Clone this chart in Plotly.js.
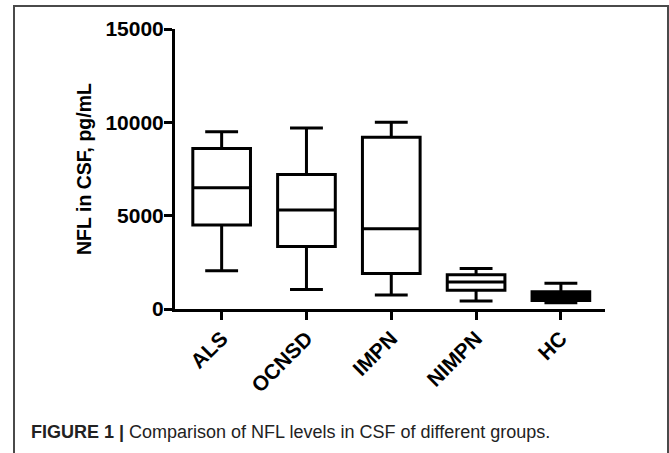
<!DOCTYPE html>
<html>
<head>
<meta charset="utf-8">
<script src="https://cdn.plot.ly/plotly-3.0.1.min.js"></script>
<style>
  html, body { margin: 0; padding: 0; background: #fff; }
  #wrap { position: relative; width: 669px; height: 453px; overflow: hidden; }
  #chart { width: 669px; height: 453px; }
  #frame { position: absolute; left: 13px; top: 5px; width: 652px; height: 460px;
           border: 2px solid #4a4a4a; pointer-events: none; }
</style>
</head>
<body>
<div id="wrap">
  <div id="chart"></div>
  <div id="frame"></div>
</div>
<script>
// Data (NFL in CSF, pg/mL)
const categories = ["ALS", "OCNSD", "IMPN", "NIMPN", "HC"];
const lowerWhisker = [2050, 1050, 750, 430, 340];
const q1Values     = [4500, 3350, 1900, 1000, 450];
const medianValues = [6500, 5300, 4300, 1450, 700];
const q3Values     = [8600, 7200, 9200, 1830, 930];
const upperWhisker = [9500, 9700, 10000, 2170, 1380];
const yTickValues  = [0, 5000, 10000, 15000];
const yTickLabels  = ["0", "5000", "10000", "15000"];

const tickFont = { family: "Liberation Sans, Arial, sans-serif", size: 21, color: "#000", weight: "bold" };
const titleFont = { family: "Liberation Sans, Arial, sans-serif", size: 19.5, color: "#000", weight: "bold" };

const traces = categories.map((c, i) => ({
  type: "box",
  x: [c],
  q1: [q1Values[i]],
  median: [medianValues[i]],
  q3: [q3Values[i]],
  lowerfence: [lowerWhisker[i]],
  upperfence: [upperWhisker[i]],
  width: 0.68,
  whiskerwidth: 0.57,
  line: { color: "#000", width: 3 },
  fillcolor: c === "HC" ? "#000" : "rgba(255,255,255,0)",
  boxpoints: false,
  hoverinfo: "skip",
  showlegend: false
}));

const layout = {
  width: 669,
  height: 453,
  margin: { l: 175, r: 64, t: 29, b: 144 },
  paper_bgcolor: "#fff",
  plot_bgcolor: "#fff",
  showlegend: false,
  xaxis: {
    type: "category",
    categoryorder: "array",
    categoryarray: categories,
    range: [-0.55, 4.52],
    showline: true,
    linecolor: "#000",
    linewidth: 3,
    ticks: "outside",
    ticklen: 8,
    tickwidth: 3,
    tickcolor: "#000",
    tickangle: -45,
    tickfont: tickFont,
    ticklabelstandoff: -2,
    showgrid: false,
    zeroline: false,
    fixedrange: true
  },
  yaxis: {
    range: [0, 15000],
    tickvals: yTickValues,
    ticktext: yTickLabels,
    showline: true,
    linecolor: "#000",
    linewidth: 3,
    ticks: "outside",
    ticklen: 8,
    tickwidth: 3,
    tickcolor: "#000",
    tickfont: tickFont,
    ticklabelstandoff: -4,
    showgrid: false,
    zeroline: false,
    fixedrange: true,
    title: { text: "NFL in CSF, pg/mL", font: titleFont, standoff: 9 }
  },
  annotations: [{
    xref: "paper", yref: "paper",
    x: -0.3395, y: -0.439,
    xanchor: "left", yanchor: "middle",
    showarrow: false,
    text: "<b>FIGURE 1 |</b> Comparison of NFL levels in CSF of different groups.",
    font: { family: "Liberation Sans, Arial, sans-serif", size: 18, color: "#222" }
  }]
};

Plotly.newPlot("chart", traces, layout, { displayModeBar: false, staticPlot: true });
</script>
</body>
</html>
